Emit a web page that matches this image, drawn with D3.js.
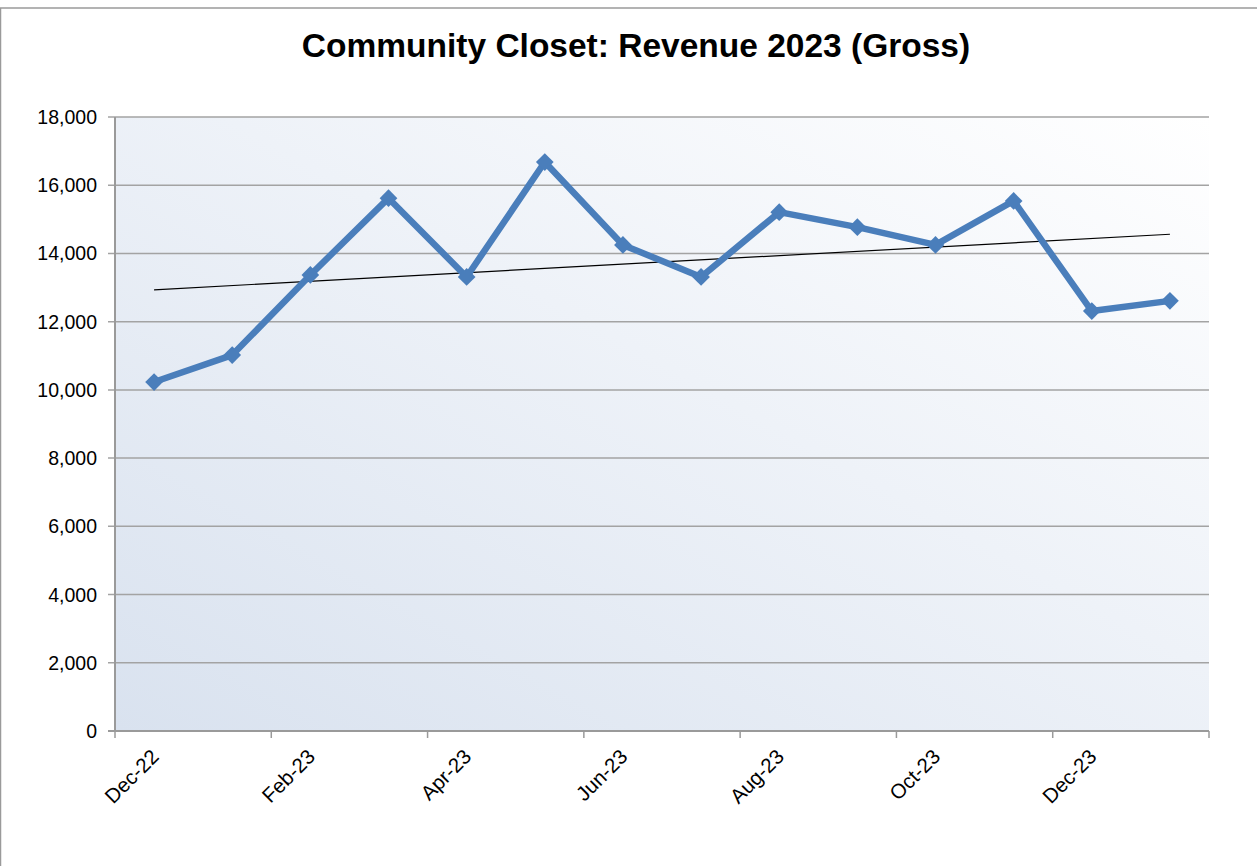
<!DOCTYPE html>
<html>
<head>
<meta charset="utf-8">
<script src="https://cdn.jsdelivr.net/npm/d3@7"></script>
<style>
  body { margin: 0; background: #fff; }
  svg { display: block; font-family: "Liberation Sans", Arial, sans-serif; }
</style>
</head>
<body>
<div class="container"></div>
<script>
// chart data
var months = ["Dec-22", "Jan-23", "Feb-23", "Mar-23", "Apr-23", "May-23", "Jun-23",
              "Jul-23", "Aug-23", "Sep-23", "Oct-23", "Nov-23", "Dec-23", "Jan-24"];
var revenue = [10230, 11020, 13370, 15620, 13310, 16680, 14250,
               13310, 15210, 14770, 14250, 15540, 12310, 12610];
var yTicks = [0, 2000, 4000, 6000, 8000, 10000, 12000, 14000, 16000, 18000];
var title = "Community Closet: Revenue 2023 (Gross)";

var width = 1257, height = 866;
var plotL = 115, plotR = 1209, plotT = 117, plotB = 731;

var svg = d3.select('.container')
    .append('svg').attr('width', width).attr('height', height);

// gradient for the plot area
var defs = svg.append('defs');
var grad = defs.append('linearGradient').attr('id', 'bg')
    .attr('x1', '0%').attr('y1', '100%').attr('x2', '100%').attr('y2', '0%');
grad.append('stop').attr('offset', '0%').attr('stop-color', '#d9e2ef');
grad.append('stop').attr('offset', '55%').attr('stop-color', '#eef2f8');
grad.append('stop').attr('offset', '100%').attr('stop-color', '#ffffff');

// outer frame (only top and left show)
svg.append('rect')
    .attr('x', 0.5).attr('y', 8).attr('width', width + 10).attr('height', height + 10)
    .style('fill', 'none').style('stroke', '#9a9a9a').style('stroke-width', 1.5);

svg.append('text')
    .attr('x', 636).attr('y', 57)
    .attr('text-anchor', 'middle')
    .style('font-size', '33.5px').style('font-weight', 'bold')
    .text(title);

var x = d3.scaleBand().domain(months).range([plotL, plotR]).padding(0);
var cx = function(d) { return x(d) + x.bandwidth() / 2; };
var y = d3.scaleLinear().domain([0, 18000]).range([plotB, plotT]);

svg.append('rect')
    .attr('x', plotL).attr('y', plotT)
    .attr('width', plotR - plotL).attr('height', plotB - plotT)
    .style('fill', 'url(#bg)');

// gridlines
svg.selectAll('line.grid').data(yTicks.filter(function(t) { return t > 0; }))
  .enter().append('line').attr('class', 'grid')
    .attr('x1', plotL - 7).attr('x2', plotR)
    .attr('y1', function(d) { return y(d); }).attr('y2', function(d) { return y(d); })
    .style('stroke', '#a3a3a3').style('stroke-width', 1.5);

// y labels
svg.selectAll('text.ylab').data(yTicks)
  .enter().append('text').attr('class', 'ylab')
    .attr('x', 97).attr('y', function(d) { return y(d); })
    .attr('dy', '0.36em')
    .attr('text-anchor', 'end')
    .style('font-size', '19.5px')
    .text(function(d) { return d3.format(',')(d); });

// axes lines
svg.append('line')
    .attr('x1', plotL).attr('x2', plotL).attr('y1', plotT).attr('y2', plotB)
    .style('stroke', '#9a9a9a').style('stroke-width', 2);
svg.append('line')
    .attr('x1', plotL - 7).attr('x2', plotR).attr('y1', plotB).attr('y2', plotB)
    .style('stroke', '#9a9a9a').style('stroke-width', 2);

// x ticks at every second category boundary
var xTickPos = months.filter(function(d, i) { return i % 2 === 0; }).map(function(d) { return x(d); });
xTickPos.push(plotR);
svg.selectAll('line.xtick').data(xTickPos)
  .enter().append('line').attr('class', 'xtick')
    .attr('x1', function(d) { return d; }).attr('x2', function(d) { return d; })
    .attr('y1', plotB).attr('y2', plotB + 7)
    .style('stroke', '#9a9a9a').style('stroke-width', 1.5);

// x labels
svg.selectAll('text.xlab').data(months.filter(function(d, i) { return i % 2 === 0; }))
  .enter().append('text').attr('class', 'xlab')
    .attr('text-anchor', 'end')
    .attr('transform', function(d) { return 'translate(' + (cx(d) + 6) + ',' + (plotB + 27) + ') rotate(-45)'; })
    .style('font-size', '20.5px')
    .text(function(d) { return d; });

// linear trendline
var n = revenue.length;
var mx = d3.mean(revenue, function(d, i) { return i; });
var my = d3.mean(revenue);
var sxy = 0, sxx = 0;
revenue.forEach(function(v, i) { sxy += (i - mx) * (v - my); sxx += (i - mx) * (i - mx); });
var slope = sxy / sxx, icpt = my - slope * mx;
svg.append('line')
    .attr('x1', cx(months[0])).attr('y1', y(icpt))
    .attr('x2', cx(months[n - 1])).attr('y2', y(icpt + slope * (n - 1)))
    .style('stroke', '#000').style('stroke-width', 1.2);

// series line
var line = d3.line()
    .x(function(d, i) { return cx(months[i]); })
    .y(function(d) { return y(d); });
svg.append('path').datum(revenue)
    .attr('d', line)
    .style('fill', 'none').style('stroke', '#4a7ebb').style('stroke-width', 6.5)
    .style('stroke-linejoin', 'round');

// diamond markers
svg.selectAll('path.marker').data(revenue)
  .enter().append('path').attr('class', 'marker')
    .attr('d', d3.symbol().type(d3.symbolDiamond2).size(200))
    .attr('transform', function(d, i) { return 'translate(' + cx(months[i]) + ',' + y(d) + ')'; })
    .style('fill', '#4a7ebb');
</script>
</body>
</html>
